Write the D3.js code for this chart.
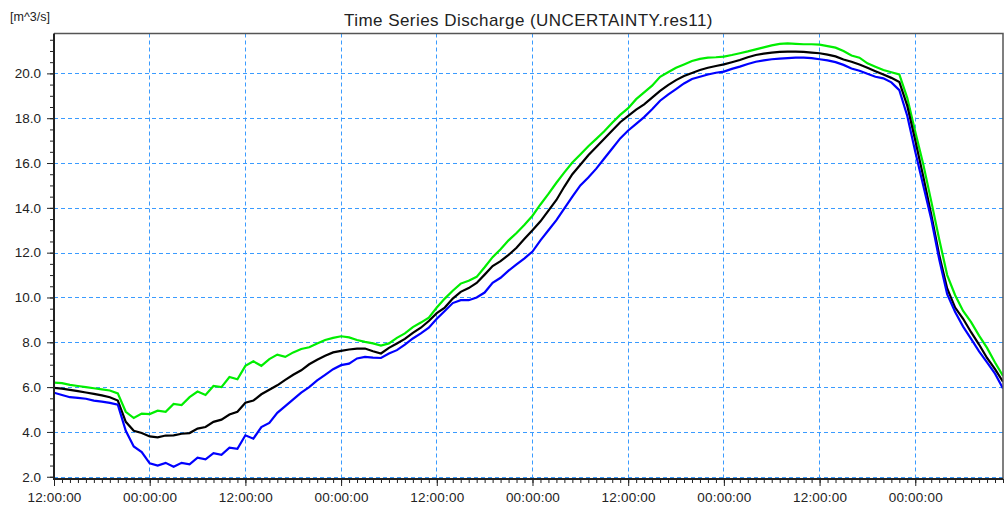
<!DOCTYPE html>
<html>
<head>
<meta charset="utf-8">
<script src="https://cdn.jsdelivr.net/npm/d3@7"></script>
<style>
  html, body { margin: 0; padding: 0; background: #fff; }
  svg { display: block; font-family: "Liberation Sans", Arial, sans-serif; }
</style>
</head>
<body>
<svg id="chart" width="1007" height="508"></svg>
<script>
// Hourly discharge series, starting at 12:00:00
const startTime = new Date(2000, 0, 1, 12, 0, 0);
const stepHours = 1;
const endHour = 119;

// Upper bound (green)
const upperValues = [
  6.20, 6.18, 6.10, 6.05, 6.00, 5.95, 5.90, 5.85, 5.72, 4.90,
  4.62, 4.82, 4.80, 4.95, 4.90, 5.25, 5.20, 5.55, 5.80, 5.65,
  6.05, 6.00, 6.45, 6.35, 6.95, 7.15, 6.95, 7.25, 7.45, 7.35,
  7.55, 7.70, 7.78, 7.95, 8.10, 8.20, 8.27, 8.22, 8.10, 8.02,
  7.95, 7.85, 7.95, 8.20, 8.40, 8.68, 8.88, 9.10, 9.55, 9.95,
  10.30, 10.62, 10.75, 10.92, 11.35, 11.80, 12.15, 12.55, 12.88, 13.25,
  13.65, 14.15, 14.62, 15.12, 15.58, 16.02, 16.38, 16.75, 17.08, 17.42,
  17.80, 18.15, 18.45, 18.85, 19.15, 19.45, 19.85, 20.05, 20.25, 20.40,
  20.55, 20.65, 20.70, 20.72, 20.75, 20.82, 20.90, 20.98, 21.07, 21.16,
  21.25, 21.32, 21.34, 21.32, 21.30, 21.30, 21.28, 21.22, 21.15, 21.00,
  20.80, 20.70, 20.45, 20.30, 20.15, 20.05, 19.95, 18.90, 17.40, 15.95,
  14.30, 12.60, 11.00, 10.10, 9.40, 8.90, 8.30, 7.75, 7.10, 6.50
];

// Simulated discharge (black)
const meanValues = [
  5.97, 5.93, 5.88, 5.82, 5.76, 5.70, 5.63, 5.55, 5.40, 4.45,
  4.05, 3.95, 3.80, 3.76, 3.84, 3.85, 3.92, 3.95, 4.15, 4.22,
  4.45, 4.55, 4.78, 4.90, 5.30, 5.40, 5.68, 5.88, 6.08, 6.32,
  6.55, 6.75, 7.02, 7.22, 7.40, 7.55, 7.62, 7.68, 7.72, 7.72,
  7.60, 7.50, 7.75, 7.95, 8.15, 8.42, 8.65, 8.95, 9.30, 9.55,
  9.95, 10.25, 10.42, 10.65, 11.02, 11.40, 11.62, 11.90, 12.22, 12.62,
  13.00, 13.40, 13.88, 14.35, 14.95, 15.50, 15.92, 16.35, 16.72, 17.08,
  17.45, 17.82, 18.10, 18.38, 18.62, 18.92, 19.22, 19.48, 19.70, 19.88,
  20.02, 20.15, 20.25, 20.33, 20.40, 20.50, 20.60, 20.72, 20.82, 20.88,
  20.93, 20.96, 20.97, 20.97, 20.96, 20.93, 20.90, 20.84, 20.76, 20.62,
  20.52, 20.40, 20.25, 20.10, 19.95, 19.80, 19.62, 18.55, 17.00, 15.40,
  13.70, 11.90, 10.40, 9.55, 9.05, 8.45, 7.90, 7.30, 6.80, 6.24
];

// Lower bound (blue)
const lowerValues = [
  5.75, 5.65, 5.55, 5.52, 5.48, 5.40, 5.35, 5.30, 5.22, 4.05,
  3.35, 3.10, 2.60, 2.50, 2.62, 2.45, 2.62, 2.55, 2.85, 2.78,
  3.05, 2.98, 3.30, 3.25, 3.85, 3.70, 4.22, 4.40, 4.85, 5.15,
  5.45, 5.75, 6.00, 6.30, 6.55, 6.80, 6.98, 7.05, 7.28, 7.35,
  7.32, 7.30, 7.50, 7.65, 7.90, 8.17, 8.40, 8.65, 9.05, 9.40,
  9.75, 9.88, 9.88, 10.00, 10.22, 10.65, 10.88, 11.20, 11.48, 11.75,
  12.05, 12.55, 13.00, 13.45, 13.98, 14.50, 15.00, 15.35, 15.75, 16.20,
  16.65, 17.10, 17.45, 17.75, 18.05, 18.40, 18.78, 19.05, 19.30, 19.55,
  19.75, 19.85, 19.95, 20.03, 20.08, 20.20, 20.30, 20.42, 20.52, 20.58,
  20.63, 20.66, 20.68, 20.70, 20.70, 20.68, 20.63, 20.58, 20.50, 20.38,
  20.22, 20.12, 19.98, 19.85, 19.78, 19.60, 19.25, 18.10, 16.50, 15.00,
  13.50, 11.70, 10.15, 9.35, 8.70, 8.15, 7.60, 7.10, 6.60, 5.94
];

const yTickValues = [2, 4, 6, 8, 10, 12, 14, 16, 18, 20];
const yDomain = [1.9, 21.78];

const chartTitle = "Time Series Discharge (UNCERTAINTY.res11)";
const unitLabel = "[m^3/s]";

const seriesList = [
  { name: "upper", values: upperValues, color: "#00ee00" },
  { name: "mean",  values: meanValues,  color: "#000000" },
  { name: "lower", values: lowerValues, color: "#0000ff" }
];

// ---- layout ----
const svg = d3.select("#chart");
const plot = { left: 54, right: 1003, top: 33.5, bottom: 479 };

const hourMs = 3600 * 1000;
const timeAt = i => new Date(startTime.getTime() + i * stepHours * hourMs);
const endTime = new Date(startTime.getTime() + endHour * hourMs);

const x = d3.scaleTime().domain([startTime, endTime]).range([plot.left, plot.right]);
const y = d3.scaleLinear().domain(yDomain).range([plot.bottom, plot.top]);

const gridColor = "#3a9bff";
const axisColor = "#222";

// grid
const majorTimes = d3.timeHour.every(12).range(startTime, new Date(endTime.getTime() + 1));
const gridG = svg.append("g");
gridG.selectAll("line.vg")
  .data(majorTimes.filter(t => t > startTime))
  .join("line")
  .attr("x1", d => Math.floor(x(d)) + 0.5).attr("x2", d => Math.floor(x(d)) + 0.5)
  .attr("y1", plot.top).attr("y2", plot.bottom)
  .attr("stroke", gridColor).attr("stroke-width", 1)
  .attr("stroke-dasharray", "4,3");
gridG.selectAll("line.hg")
  .data(yTickValues)
  .join("line")
  .attr("x1", plot.left).attr("x2", plot.right)
  .attr("y1", d => Math.round(y(d)) + 0.5).attr("y2", d => Math.round(y(d)) + 0.5)
  .attr("stroke", gridColor).attr("stroke-width", 1)
  .attr("stroke-dasharray", "4,3");

// series
svg.append("clipPath").attr("id", "plotClip")
  .append("rect")
  .attr("x", plot.left).attr("y", plot.top)
  .attr("width", plot.right - plot.left).attr("height", plot.bottom - plot.top);

const line = d3.line()
  .x((d, i) => x(timeAt(i)))
  .y(d => y(d))
  .curve(d3.curveLinear);

svg.append("g").attr("clip-path", "url(#plotClip)")
  .selectAll("path")
  .data(seriesList)
  .join("path")
  .attr("d", d => line(d.values))
  .attr("fill", "none")
  .attr("stroke", d => d.color)
  .attr("stroke-width", 2.2)
  .attr("stroke-linejoin", "miter");

// frame: top and right border
svg.append("path")
  .attr("d", `M${plot.left},${plot.top}H${plot.right}V${plot.bottom}`)
  .attr("fill", "none").attr("stroke", "#555").attr("stroke-width", 1.5);

// y axis
const yMinor = d3.range(2, 21.75, 0.5);
const yAxisMinor = d3.axisLeft(y).tickValues(yMinor).tickSize(4).tickFormat("");
const yAxisMajor = d3.axisLeft(y).tickValues(yTickValues).tickSize(7).tickPadding(6)
  .tickFormat(d3.format(".1f"));

const gyMinor = svg.append("g").attr("transform", `translate(${plot.left},0)`).call(yAxisMinor);
const gy = svg.append("g").attr("transform", `translate(${plot.left},0)`).call(yAxisMajor);
[gyMinor, gy].forEach(g => {
  g.select(".domain").remove();
  g.selectAll("line").attr("stroke", axisColor);
});
gy.selectAll("text").attr("font-size", 13.5).attr("fill", axisColor)
  .attr("font-family", "Liberation Sans, Arial, sans-serif");
svg.append("line")
  .attr("x1", plot.left).attr("x2", plot.left)
  .attr("y1", plot.top).attr("y2", plot.bottom + 1)
  .attr("stroke", axisColor).attr("stroke-width", 2);

// x axis
const xMinor = d3.timeHour.every(1).range(startTime, new Date(endTime.getTime() + 1));
const xAxisMinor = d3.axisBottom(x).tickValues(xMinor).tickSize(4).tickFormat("");
const xAxisMajor = d3.axisBottom(x).tickValues(majorTimes).tickSize(7).tickPadding(6)
  .tickFormat(d3.timeFormat("%H:%M:%S"));
const gxMinor = svg.append("g").attr("transform", `translate(0,${plot.bottom})`).call(xAxisMinor);
const gx = svg.append("g").attr("transform", `translate(0,${plot.bottom})`).call(xAxisMajor);
[gxMinor, gx].forEach(g => {
  g.select(".domain").remove();
  g.selectAll("line").attr("stroke", axisColor);
});
gx.selectAll("text").attr("font-size", 13.5).attr("fill", axisColor)
  .attr("letter-spacing", 0.2)
  .attr("font-family", "Liberation Sans, Arial, sans-serif");
svg.append("line")
  .attr("x1", plot.left - 1).attr("x2", plot.right)
  .attr("y1", plot.bottom).attr("y2", plot.bottom)
  .attr("stroke", axisColor).attr("stroke-width", 2);

// title and unit
svg.append("text")
  .attr("x", (plot.left + plot.right) / 2).attr("y", 26)
  .attr("text-anchor", "middle")
  .attr("font-size", 17).attr("letter-spacing", 0.45).attr("fill", axisColor)
  .text(chartTitle);
svg.append("text")
  .attr("x", 10).attr("y", 21)
  .attr("font-size", 12.5).attr("fill", axisColor)
  .text(unitLabel);
</script>
</body>
</html>
